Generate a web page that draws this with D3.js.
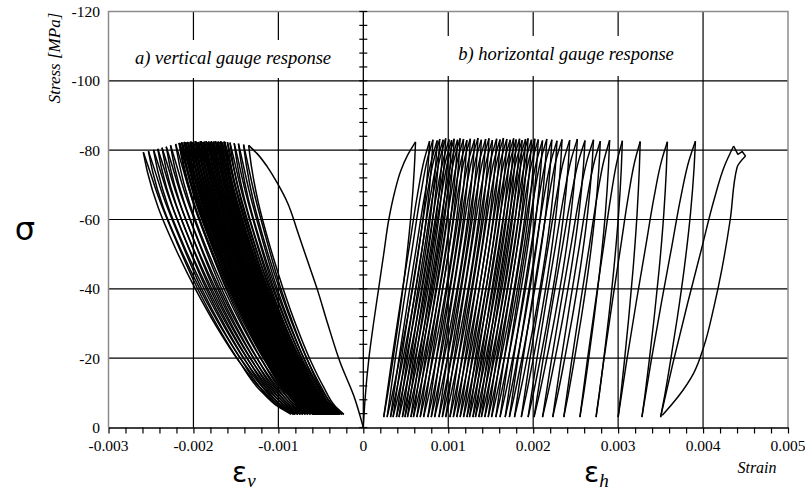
<!DOCTYPE html>
<html>
<head>
<meta charset="utf-8">
<script src="https://cdn.jsdelivr.net/npm/d3@7"></script>
<style>
body { margin: 0; background: #fff; }
</style>
</head>
<body>
<svg id="chart" width="805" height="491"></svg>
<script>
const SERIF = "'Liberation Serif', 'Times New Roman', serif";
const SANS = "'DejaVu Sans', 'Liberation Sans', sans-serif";

// axis ticks
const xTicks = [-0.003, -0.002, -0.001, 0, 0.001, 0.002, 0.003, 0.004, 0.005];
const yTicks = [0, -20, -40, -60, -80, -100, -120];

// ---- vertical gauge (left) : strain at start of each reload, peak strain, peak stress ----
const vFirstLoad = [[0, 0], [-0.00011, -9], [-0.00027, -18.6], [-0.00042, -30], [-0.00054, -39.7], [-0.00066, -48.3],
  [-0.00078, -57], [-0.00089, -64.7], [-0.00101, -70.4], [-0.00113, -75.2], [-0.00125, -79], [-0.00135, -81.4]];
const vBottom = [0, -0.00023, -0.00025, -0.00027, -0.00028, -0.00029,
  -0.0003, -0.00031, -0.00032, -0.00032, -0.00033, -0.00034, -0.00035, -0.00036, -0.00036, -0.00037,
  -0.00038, -0.00039, -0.0004, -0.0004, -0.00041, -0.00042, -0.00043, -0.00044, -0.00044, -0.00045,
  -0.00046, -0.00047, -0.00048, -0.00048, -0.00049, -0.0005, -0.00051, -0.00052, -0.00052, -0.00053,
  -0.00054, -0.00055, -0.00056, -0.00056, -0.00057, -0.00058, -0.00059,
  -0.00062, -0.00065, -0.00068, -0.00071, -0.00074, -0.00077, -0.0008, -0.00082];
const vPeak = [-0.00135, -0.00141, -0.00147, -0.00152, -0.00157, -0.0016,
  -0.00163, -0.00164, -0.00166, -0.00168, -0.00169, -0.00171, -0.00172, -0.00174, -0.00176, -0.00177,
  -0.00179, -0.0018, -0.00182, -0.00183, -0.00185, -0.00187, -0.00188, -0.00189, -0.00191, -0.00192,
  -0.00194, -0.00195, -0.00197, -0.00198, -0.002, -0.00201, -0.00203, -0.00204, -0.00206, -0.00207,
  -0.00209, -0.0021, -0.00211, -0.00213, -0.00214, -0.00216, -0.00217,
  -0.00221, -0.00227, -0.00232, -0.00237, -0.00242, -0.00247, -0.00253, -0.00259];
const vPeakStress = [-81.4, -81.6, -81.9, -82.0, -82.2, -82.3,
  -82.4, -82.5, -82.3, -82.6, -82.4, -82.5, -82.3, -82.6, -82.5, -82.4, -82.6, -82.3, -82.5, -82.4,
  -82.6, -82.5, -82.3, -82.4, -82.6, -82.5, -82.4, -82.3, -82.5, -82.6, -82.4, -82.3, -82.5, -82.4,
  -82.2, -82.4, -82.3, -82.2, -82.4, -82.1, -82.3, -82.0, -82.1,
  -81.8, -81.4, -81.0, -80.7, -80.4, -80.1, -79.7, -79.4];
const vBottomStress = -3.8;
const vEnd = -0.00085;
// branch shapes: [share of strain travel, share of stress travel]
const vLoadShape = [[0, 0], [0.1, 0.03], [0.22, 0.09], [0.36, 0.2], [0.5, 0.33], [0.64, 0.48], [0.78, 0.66], [0.9, 0.83], [0.97, 0.95], [1, 1]];
const vUnloadShape = [[0, 0], [0.03, 0.08], [0.1, 0.21], [0.22, 0.37], [0.36, 0.53], [0.5, 0.67], [0.65, 0.8], [0.79, 0.9], [0.91, 0.97], [1, 1]];

// ---- horizontal gauge (right) ----
const hFirstLoad = [[0, 0], [0.00002, -8], [0.000066, -20], [0.00012, -30], [0.00018, -40], [0.00024, -50],
  [0.0003, -60], [0.00037, -68], [0.00044, -74], [0.00052, -78.5], [0.000615, -82.4]];
const hBottom = [0, 0.00024, 0.00028, 0.00032, 0.00035, 0.00039, 0.00042, 0.00046, 0.00049, 0.00052,
  0.00056, 0.00059, 0.00063, 0.00067, 0.00071, 0.00076, 0.0008, 0.00084, 0.00089, 0.00093,
  0.00097, 0.00102, 0.00106, 0.0011, 0.00114, 0.00118, 0.00122, 0.00125, 0.00129, 0.00132,
  0.00136, 0.00139, 0.00143, 0.00147, 0.00151, 0.00156, 0.00161, 0.00167, 0.00172, 0.00178,
  0.00186, 0.00194, 0.00201, 0.00211, 0.00223, 0.00236, 0.00255, 0.00274, 0.003, 0.00328, 0.0035];
const hPeak = [0.000615, 0.00078, 0.00082, 0.00087, 0.0009, 0.00094, 0.00097, 0.00101, 0.00104, 0.00107,
  0.00111, 0.00114, 0.00118, 0.00122, 0.00126, 0.00131, 0.00135, 0.00139, 0.00144, 0.00148,
  0.00152, 0.00157, 0.00161, 0.00165, 0.00169, 0.00173, 0.00177, 0.0018, 0.00184, 0.00187,
  0.00191, 0.00194, 0.00198, 0.00202, 0.00206, 0.00211, 0.00216, 0.00222, 0.00228, 0.00234,
  0.00243, 0.00252, 0.00261, 0.00271, 0.00279, 0.0029, 0.00305, 0.00326, 0.00358, 0.00391, 0.00436];
const hPeakStress = [-82.4, -82.6, -83.0, -82.8, -83.2, -83.0, -83.4, -83.1, -82.9, -83.3,
  -83.0, -83.4, -83.2, -82.9, -83.3, -83.1, -83.5, -83.0, -83.2, -83.4,
  -82.9, -83.3, -83.1, -83.5, -83.2, -83.0, -83.4, -83.1, -83.3, -82.9,
  -83.2, -83.4, -83.0, -83.3, -83.1, -82.8, -83.2, -83.0, -82.7, -83.1,
  -82.9, -83.2, -82.8, -83.0, -82.6, -82.9, -82.7, -82.5, -82.4, -82.6, -81.2];
const hBottomStress = -3;
// last cycle: small drop after the peak, then the wide unloading branch
const hTail = [[0.00441, -78.8], [0.00446, -79.6], [0.0045, -78.3]];
const hFinalUnload = [[0.0045, -78.3], [0.0044, -75], [0.00432, -60], [0.00422, -45.5], [0.00413, -35],
  [0.00401, -23.4], [0.00389, -15.7], [0.00371, -9], [0.00352, -3.5]];
const hLoadShape = [[0, 0], [0.17, 0.2], [0.37, 0.42], [0.56, 0.62], [0.73, 0.8], [0.88, 0.93], [1, 1]];
const hUnloadShape = [[0, 0], [0.04, 0.1], [0.14, 0.26], [0.32, 0.46], [0.52, 0.64], [0.72, 0.8], [0.88, 0.92], [1, 1]];

const svg = d3.select("#chart");
const x = d3.scaleLinear().domain([-0.003, 0.005]).range([108.5, 788]);
const y = d3.scaleLinear().domain([0, -120]).range([427.5, 11.5]);
const [x0, x1] = x.range();
const [yb, yt] = y.range();

// gridlines
svg.append("g").selectAll("line")
  .data(yTicks.filter(d => d !== 0 && d !== -120))
  .join("line")
  .attr("x1", x0).attr("x2", x1)
  .attr("y1", d => y(d)).attr("y2", d => y(d))
  .attr("stroke", "#000").attr("stroke-width", 1.2);
svg.append("g").selectAll("line")
  .data(xTicks.filter(d => d !== 0 && d !== -0.003 && d !== 0.005))
  .join("line")
  .attr("x1", d => x(d)).attr("x2", d => x(d))
  .attr("y1", yt).attr("y2", yb)
  .attr("stroke", "#000").attr("stroke-width", 1.2);

// plot frame (grey)
svg.append("path")
  .attr("d", `M${x0},${yb}V${yt}H${x1}V${yb}`)
  .attr("fill", "none").attr("stroke", "#8c8c8c").attr("stroke-width", 1.5);

// panel captions on white boxes
function caption(txt, cx, by, padX, boxTop, boxBot) {
  const t = svg.append("text")
    .attr("x", cx).attr("y", by)
    .attr("text-anchor", "middle")
    .style("font-family", SERIF).style("font-style", "italic").style("font-size", "18.5px")
    .text(txt);
  const bb = t.node().getBBox();
  svg.insert("rect", "text")
    .attr("x", bb.x - padX).attr("width", bb.width + 2 * padX)
    .attr("y", boxTop).attr("height", boxBot - boxTop)
    .attr("fill", "#fff");
}
caption("a) vertical gauge response", 233, 64, 10, 40, 78);
caption("b) horizontal gauge response", 566, 60, 12, 36, 76);

// loops
function branch(e0, s0, e1, s1, shape) {
  return shape.map(p => [e0 + p[0] * (e1 - e0), s0 + p[1] * (s1 - s0)]);
}
const smooth = d3.line().x(d => x(d[0])).y(d => y(d[1])).curve(d3.curveMonotoneY);
const straight = d3.line().x(d => x(d[0])).y(d => y(d[1]));

function gauge(firstLoad, bottoms, peaks, peakS, botS, loadShape, unloadShape, last, width) {
  const parts = [{ pts: firstLoad, lin: false }];
  for (let i = 0; i < peaks.length; i++) {
    if (i > 0) parts.push({ pts: branch(bottoms[i], botS, peaks[i], peakS[i], loadShape), lin: false });
    if (i < peaks.length - 1) {
      parts.push({ pts: branch(peaks[i], peakS[i], bottoms[i + 1], botS, unloadShape), lin: false });
    } else if (last.tail) {
      parts.push({ pts: [[peaks[i], peakS[i]]].concat(last.tail), lin: true });
      parts.push({ pts: last.unload, lin: false });
    } else {
      parts.push({ pts: branch(peaks[i], peakS[i], last.end, botS, unloadShape), lin: false });
    }
  }
  svg.append("g").selectAll("path")
    .data(parts)
    .join("path")
    .attr("d", d => (d.lin ? straight : smooth)(d.pts))
    .attr("fill", "none")
    .attr("stroke", "#000")
    .attr("stroke-width", width)
    .attr("stroke-linejoin", "round");
}
gauge(vFirstLoad, vBottom, vPeak, vPeakStress, vBottomStress, vLoadShape, vUnloadShape, { end: vEnd }, 1.5);
gauge(hFirstLoad, hBottom, hPeak, hPeakStress, hBottomStress, hLoadShape, hUnloadShape,
  { tail: hTail, unload: hFinalUnload }, 1.45);

// x axis along zero stress with minor ticks
svg.append("g")
  .attr("transform", `translate(0,${yb})`)
  .call(d3.axisBottom(x).tickValues(d3.range(-0.003, 0.00501, 0.0002)).tickSize(6).tickSizeOuter(0).tickFormat(""))
  .call(g => g.select(".domain").attr("stroke-width", 1.5))
  .call(g => g.selectAll(".tick line").attr("stroke-width", 1.2));

// y axis at zero strain, ticks crossing
const yMinor = d3.range(0, -121, -4);
svg.append("line")
  .attr("x1", x(0)).attr("x2", x(0)).attr("y1", yt).attr("y2", yb)
  .attr("stroke", "#000").attr("stroke-width", 1.3);
svg.append("g").selectAll("line")
  .data(yMinor)
  .join("line")
  .attr("x1", x(0) - 4).attr("x2", x(0) + 4)
  .attr("y1", d => y(d)).attr("y2", d => y(d))
  .attr("stroke", "#000").attr("stroke-width", 1.2);

// tick labels
svg.append("g").selectAll("text")
  .data(yTicks)
  .join("text")
  .attr("x", 100).attr("y", d => y(d)).attr("dy", "0.35em")
  .attr("text-anchor", "end")
  .style("font-family", SERIF).style("font-size", "15.5px")
  .text(d => String(d));
svg.append("g").selectAll("text")
  .data(xTicks)
  .join("text")
  .attr("x", d => x(d)).attr("y", 451)
  .attr("text-anchor", "middle")
  .style("font-family", SERIF).style("font-size", "15.5px")
  .text(d => String(d));

// axis titles
svg.append("text")
  .attr("transform", "translate(60,58) rotate(-90)")
  .attr("text-anchor", "middle")
  .style("font-family", SERIF).style("font-style", "italic").style("font-size", "17px")
  .text("Stress [MPa]");
svg.append("text")
  .attr("x", 25).attr("y", 240)
  .attr("text-anchor", "middle")
  .style("font-family", SANS).style("font-size", "32px")
  .text("σ");
const ev = svg.append("text").attr("x", 232).attr("y", 482)
  .style("font-family", SANS).style("font-size", "28px");
ev.append("tspan").text("ε");
ev.append("tspan").attr("dy", 5)
  .style("font-family", SERIF).style("font-style", "italic").style("font-size", "19px")
  .text("v");
const eh = svg.append("text").attr("x", 584).attr("y", 482)
  .style("font-family", SANS).style("font-size", "28px");
eh.append("tspan").text("ε");
eh.append("tspan").attr("dy", 5)
  .style("font-family", SERIF).style("font-style", "italic").style("font-size", "19px")
  .text("h");
svg.append("text")
  .attr("x", 757).attr("y", 473)
  .attr("text-anchor", "middle")
  .style("font-family", SERIF).style("font-style", "italic").style("font-size", "16px")
  .text("Strain");
</script>
</body>
</html>
